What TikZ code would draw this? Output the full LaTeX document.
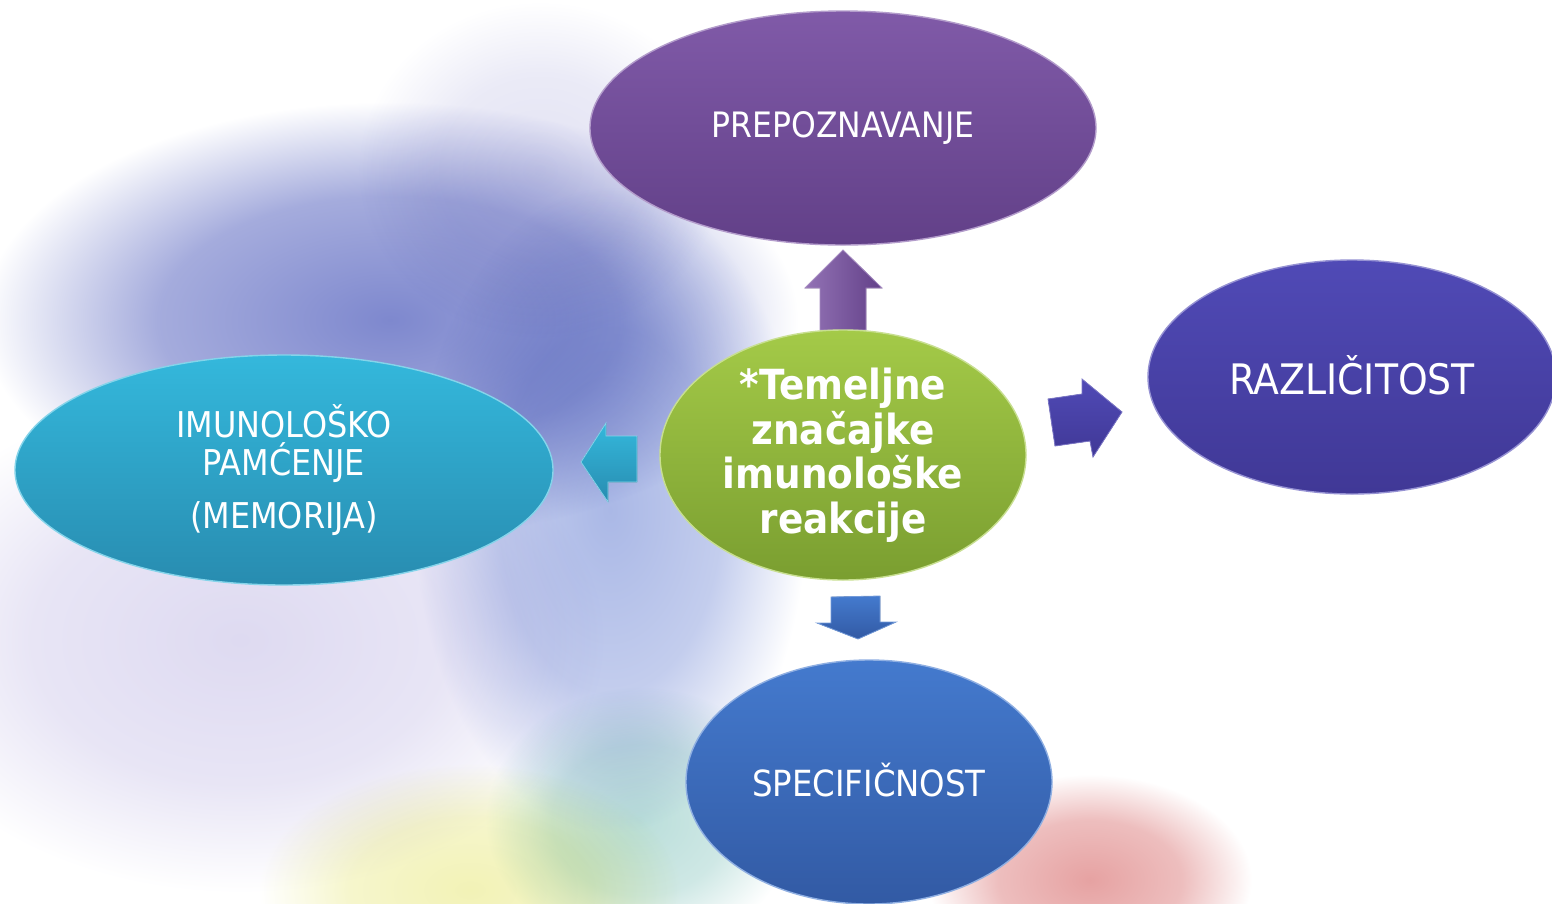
\documentclass[tikz,border=0pt]{standalone}
\usepackage{fontspec}
\setmainfont{DejaVu Sans Condensed}
\usetikzlibrary{shapes.geometric}

% bubble colours
\definecolor{purpTop}{RGB}{128,90,168}
\definecolor{purpBot}{RGB}{98,64,136}
\definecolor{violTop}{RGB}{80,74,182}
\definecolor{violBot}{RGB}{64,56,150}
\definecolor{cyanTop}{RGB}{52,184,220}
\definecolor{cyanBot}{RGB}{40,140,176}
\definecolor{blueTop}{RGB}{68,122,206}
\definecolor{blueBot}{RGB}{50,90,164}
\definecolor{grnTop}{RGB}{164,202,72}
\definecolor{grnBot}{RGB}{122,158,48}
% background haze colours
\definecolor{hazeA}{RGB}{126,136,206}
\definecolor{hazeB}{RGB}{170,184,230}
\definecolor{hazeC}{RGB}{222,218,241}
\definecolor{hazeD}{RGB}{242,242,182}
\definecolor{hazeE}{RGB}{186,222,218}
\definecolor{hazeF}{RGB}{230,162,162}
\definecolor{hazeG}{RGB}{226,226,243}

% soft radial blob: full colour in the middle, white at the rim of the path
\colorlet{hazecol}{white}
\pgfdeclareradialshading[hazecol]{softhaze}{\pgfpoint{0bp}{0bp}}{%
  color(0bp)=(hazecol); color(10bp)=(hazecol!70!white);
  color(17.6bp)=(white); color(50bp)=(white)}
\newcommand\hazeblob[4]{%
  \colorlet{hazecol}{#1}%
  \shade[shading=softhaze] #2 ellipse [x radius=#3, y radius=#4];}

\tikzset{
  bubble/.style={ellipse, inner sep=0pt, text=white, align=center, line width=1.4pt},
  blockarrow/.style={line width=0.8pt, line join=miter}
}

\begin{document}
\begin{tikzpicture}[x=1pt,y=-1pt]
\useasboundingbox (0,0) rectangle (1552,903);
\fill[white] (0,0) rectangle (1552,903);

% soft coloured haze behind the diagram
\begin{scope}[blend mode=multiply]
  \clip (0,0) rectangle (1552,903);
  \hazeblob{hazeC}{(240,640)}{520}{360}
  \hazeblob{hazeG}{(540,170)}{260}{240}
  \hazeblob{hazeA}{(390,320)}{580}{310}
  \hazeblob{hazeB}{(610,510)}{280}{460}
  \hazeblob{hazeD}{(470,890)}{300}{180}
  \hazeblob{hazeE}{(640,820)}{220}{190}
  \hazeblob{hazeF}{(1090,880)}{230}{150}
\end{scope}

% block arrows pointing out of the centre
\filldraw[blockarrow, left color=purpTop!85!white, right color=purpBot, draw=purpTop!70!white]
  (820,330) -- (820,288) -- (805,288) -- (843,250) coordinate (upTip)
  -- (882,288) -- (866,288) -- (866,330) -- cycle;
\filldraw[blockarrow, top color=cyanTop, bottom color=cyanBot, draw=cyanTop!60!white]
  (581,462) coordinate (leftTip) -- (606,423) -- (606,436) -- (637,436)
  -- (637,482) -- (608,482) -- (608,502) -- cycle;
\filldraw[blockarrow, top color=violTop, bottom color=violBot, draw=violTop!75!white]
  (1048,399) -- (1082,394) -- (1082,379) -- (1122,412) coordinate (rightTip)
  -- (1093,457) -- (1090,441) -- (1055,446) -- cycle;
\filldraw[blockarrow, top color=blueTop, bottom color=blueBot, draw=blueTop!75!white]
  (831,597) -- (880,596) -- (880,622) -- (896,622) -- (858,639) coordinate (downTip)
  -- (817,623) -- (831,623) -- cycle;

% surrounding bubbles
\node[bubble, minimum width=506pt, minimum height=234pt, top color=purpTop, bottom color=purpBot,
      draw=purpTop!60!white, font=\fontsize{35}{40}\selectfont] (recog) at (843,128)
      {PREPOZNAVANJE};
\node[bubble, minimum width=408pt, minimum height=234pt, top color=violTop, bottom color=violBot,
      draw=violTop!60!white, font=\fontsize{42}{48}\selectfont] (divers) at (1352,377)
      {\raisebox{5pt}{RAZLIČITOST}};
\node[bubble, minimum width=538pt, minimum height=230pt, top color=cyanTop, bottom color=cyanBot,
      draw=cyanTop!60!white, font=\fontsize{35.5}{38}\selectfont] (memory) at (284,470)
      {IMUNOLOŠKO\\PAMĆENJE\\[15pt](MEMORIJA)};
\node[bubble, minimum width=366pt, minimum height=244pt, top color=blueTop, bottom color=blueBot,
      draw=blueTop!60!white, font=\fontsize{36}{40}\selectfont] (specif) at (869,782)
      {\raisebox{5pt}{SPECIFIČNOST}};

% central bubble
\node[bubble, minimum width=366pt, minimum height=250pt, top color=grnTop, bottom color=grnBot,
      draw=grnTop!60!white, font=\bfseries\fontsize{41.5}{44.5}\selectfont] (core) at (843,455)
      {*Temeljne\\značajke\\imunološke\\reakcije};
\end{tikzpicture}
\end{document}
